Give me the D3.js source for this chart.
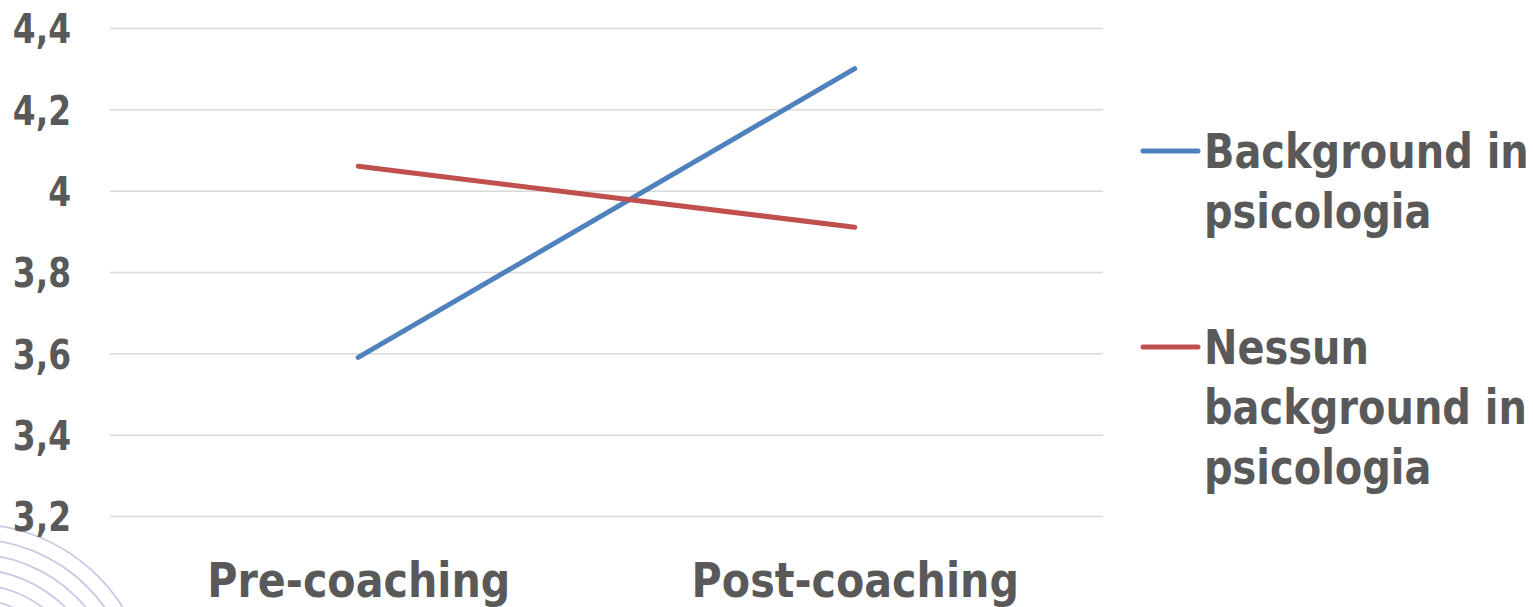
<!DOCTYPE html>
<html>
<head>
<meta charset="utf-8">
<script src="https://cdn.jsdelivr.net/npm/d3@7"></script>
<style>
  html, body { margin: 0; padding: 0; background: #ffffff; }
  svg { display: block; }
  .lbl { font-family: "DejaVu Sans Condensed", "DejaVu Sans", sans-serif; font-weight: bold; font-stretch: condensed; fill: #595959; }
</style>
</head>
<body>
<svg id="chart" width="1533" height="607"></svg>
<script>
// Phases on the horizontal axis
const categories = ["Pre-coaching", "Post-coaching"];
// Mean scores per group
const seriesNames = [["Background in", "psicologia"], ["Nessun", "background in", "psicologia"]];
const backgroundValues = [3.59, 4.30];
const nessunValues = [4.06, 3.91];
const seriesColors = ["#4F81BD", "#C0504D"];
// Value axis ticks
const yTicks = [3.2, 3.4, 3.6, 3.8, 4.0, 4.2, 4.4];

const plot = { left: 110, right: 1103, top: 28, bottom: 516 };

const svg = d3.select("#chart");
const itLocale = d3.formatLocale({ decimal: ",", thousands: ".", grouping: [3], currency: ["€", ""] });
const fmt = itLocale.format("~g");

// Decorative concentric arcs in the lower-left corner
const deco = svg.append("g").attr("fill", "none").attr("stroke", "#c6cbe2").attr("stroke-width", 1.8);
const arcRadii = [178, 163, 148, 133, 118, 103, 88];
deco.selectAll("circle").data(arcRadii).join("circle")
  .attr("cx", -28).attr("cy", 702).attr("r", d => d);

const x = d3.scalePoint().domain(categories).range([plot.left, plot.right]).padding(0.5);
const y = d3.scaleLinear().domain([3.2, 4.4]).range([plot.bottom, plot.top]);

// Horizontal gridlines
const grid = d3.axisLeft(y).tickValues(yTicks).tickSize(-(plot.right - plot.left)).tickFormat("");
svg.append("g").attr("transform", `translate(${plot.left},0)`).call(grid)
  .call(g => g.select(".domain").remove())
  .call(g => g.selectAll("line").attr("stroke", "#d9d9d9").attr("stroke-width", 1.5));

// Y tick labels (horizontally squeezed for a narrow look)
const yAxis = d3.axisLeft(y).tickValues(yTicks).tickSize(0).tickPadding(0).tickFormat(fmt);
svg.append("g").attr("transform", "translate(71,0)").call(yAxis)
  .call(g => g.select(".domain").remove())
  .call(g => g.selectAll("text").attr("class", "lbl").attr("font-size", 41)
    .attr("x", 0).attr("dy", "0.36em").attr("fill", "#595959")
    .attr("transform", "scale(0.89,1)"));

// X category labels
const xAxis = d3.axisBottom(x).tickSize(0).tickPadding(0);
svg.append("g").attr("transform", "translate(0,597)").call(xAxis)
  .call(g => g.select(".domain").remove())
  .call(g => g.selectAll("text").attr("class", "lbl").attr("font-size", 48)
    .attr("y", 0).attr("dy", 0).attr("fill", "#595959")
    .attr("transform", "scale(0.955,1)"));

// Series lines
const series = [backgroundValues, nessunValues];
const line = d3.line().x((d, i) => x(categories[i])).y(d => y(d));
svg.append("g").selectAll("path").data(series).join("path")
  .attr("d", d => line(d))
  .attr("fill", "none")
  .attr("stroke", (d, i) => seriesColors[i])
  .attr("stroke-width", 5)
  .attr("stroke-linecap", "round");

// Legend
const legendTops = [151, 347];
const leg = svg.append("g");
seriesNames.forEach((lines, i) => {
  const g = leg.append("g").attr("transform", `translate(1143,${legendTops[i]})`);
  g.append("line").attr("x1", 0).attr("x2", 55).attr("y1", 0).attr("y2", 0)
    .attr("stroke", seriesColors[i]).attr("stroke-width", 5).attr("stroke-linecap", "round");
  g.selectAll("text").data(lines).join("text")
    .attr("class", "lbl").attr("font-size", 48)
    .attr("transform", (s, j) => `translate(61,${17 + j * 60}) scale(0.925,1)`)
    .text(s => s);
});
</script>
</body>
</html>
